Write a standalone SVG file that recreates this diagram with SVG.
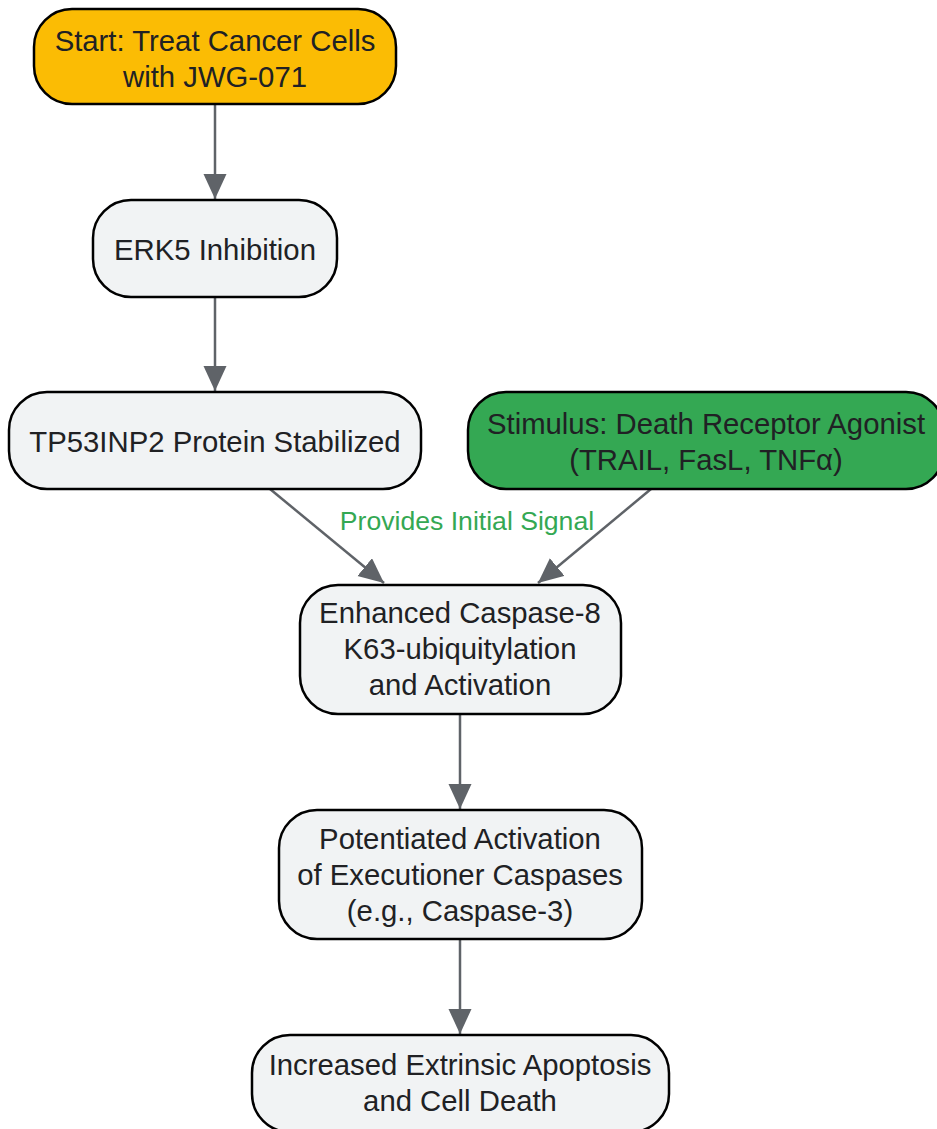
<svg xmlns="http://www.w3.org/2000/svg" width="937" height="1129" viewBox="0 0 937 1129">
<style>
.node rect{stroke:#000;stroke-width:2.5;}
.n{fill:#F1F3F4;}
.y{fill:#FBBC04;}
.g{fill:#34A853;}
text{font-family:"Liberation Sans",Arial,sans-serif;font-size:29.3px;fill:#202124;text-anchor:middle;}
.lbl{font-size:26.6px;fill:#34A853;}
.edge{stroke:#5F6368;stroke-width:2.5;fill:none;}
</style>
<defs>
<marker id="ah" markerUnits="userSpaceOnUse" markerWidth="26" markerHeight="24" refX="25" refY="11.5" orient="auto" viewBox="0 0 26 24">
<path d="M0,0 L25,11.5 L0,23 z" fill="#5F6368"/>
</marker>
</defs>
<rect width="937" height="1129" fill="#fff"/>
<g id="edges">
<line class="edge" x1="215" y1="104" x2="215" y2="199" marker-end="url(#ah)"/>
<line class="edge" x1="215" y1="297" x2="215" y2="391" marker-end="url(#ah)"/>
<line class="edge" x1="270" y1="489" x2="384" y2="583" marker-end="url(#ah)"/>
<line class="edge" x1="651" y1="489" x2="538" y2="583" marker-end="url(#ah)"/>
<line class="edge" x1="460" y1="714" x2="460" y2="809" marker-end="url(#ah)"/>
<line class="edge" x1="460" y1="939" x2="460" y2="1034" marker-end="url(#ah)"/>
<text class="lbl" x="467" y="530">Provides Initial Signal</text>
</g>
<g id="start" class="node">
<rect class="y" x="34" y="9" width="362" height="95" rx="38"/>
<text x="215" y="51">Start: Treat Cancer Cells</text>
<text x="215" y="87">with JWG-071</text>
</g>
<g id="erk5" class="node">
<rect class="n" x="93" y="200" width="244" height="97" rx="38"/>
<text x="215" y="260">ERK5 Inhibition</text>
</g>
<g id="tp53inp2" class="node">
<rect class="n" x="9" y="392" width="412" height="97" rx="38"/>
<text x="215" y="452">TP53INP2 Protein Stabilized</text>
</g>
<g id="stimulus" class="node">
<rect class="g" x="468" y="392" width="476" height="97" rx="38"/>
<text x="706" y="434">Stimulus: Death Receptor Agonist</text>
<text x="706" y="470">(TRAIL, FasL, TNFα)</text>
</g>
<g id="caspase8" class="node">
<rect class="n" x="300" y="585" width="321" height="129" rx="38"/>
<text x="460" y="623">Enhanced Caspase-8</text>
<text x="460" y="659">K63-ubiquitylation</text>
<text x="460" y="695">and Activation</text>
</g>
<g id="executioner" class="node">
<rect class="n" x="279" y="810" width="363" height="129" rx="38"/>
<text x="460" y="849">Potentiated Activation</text>
<text x="460" y="885">of Executioner Caspases</text>
<text x="460" y="921">(e.g., Caspase-3)</text>
</g>
<g id="apoptosis" class="node">
<rect class="n" x="252" y="1035" width="417" height="97" rx="38"/>
<text x="460" y="1075">Increased Extrinsic Apoptosis</text>
<text x="460" y="1111">and Cell Death</text>
</g>
</svg>
